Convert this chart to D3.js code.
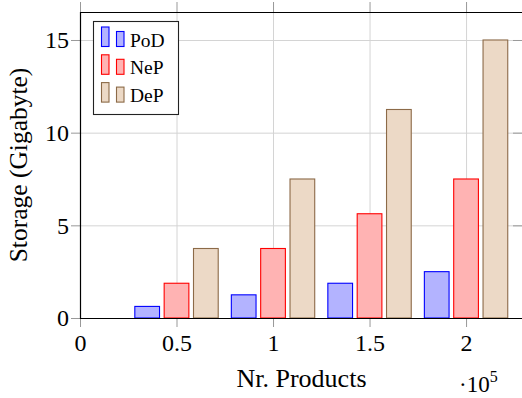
<!DOCTYPE html>
<html>
<head>
<meta charset="utf-8">
<script src="https://cdn.jsdelivr.net/npm/d3@7"></script>
<style>
  body { margin: 0; background: #fff; }
  svg { display: block; }
  text { font-family: "Liberation Serif", "DejaVu Serif", serif; fill: #000; }
</style>
</head>
<body>
<script>
// data (x in units of 10^5 products, y in gigabyte)
const products = [0.5, 1, 1.5, 2];
const pod = [0.625, 1.25, 1.875, 2.5];
const nep = [1.875, 3.75, 5.625, 7.5];
const dep = [3.75, 7.5, 11.25, 15];
const seriesNames = ["PoD", "NeP", "DeP"];
const xTicks = [0, 0.5, 1, 1.5, 2];
const xTickLabels = ["0", "0.5", "1", "1.5", "2"];
const yTicks = [0, 5, 10, 15];
const yTickLabels = ["0", "5", "10", "15"];

const width = 522, height = 398;
const plotL = 80, plotR = 523, plotT = 12, plotB = 318;

const colors = [
  { fill: "#b3b3ff", stroke: "#0000ff" },
  { fill: "#ffb3b3", stroke: "#ff0000" },
  { fill: "#ecd9c6", stroke: "#8c6a48" }
];

const svg = d3.select("body").append("svg")
  .attr("width", width)
  .attr("height", height);

const x = d3.scaleLinear().domain([0, 2.295]).range([plotL, plotR]);
const y = d3.scaleLinear().domain([0, 16.51]).range([plotB, plotT]);

// grid
svg.append("g")
  .attr("transform", "translate(0," + plotB + ")")
  .call(d3.axisBottom(x).tickValues(xTicks).tickSize(-(plotB - plotT)).tickFormat(""))
  .call(g => g.select(".domain").remove())
  .call(g => g.selectAll("line").attr("stroke", "#d4d4d4"));
svg.append("g")
  .attr("transform", "translate(" + plotL + ",0)")
  .call(d3.axisLeft(y).tickValues(yTicks).tickSize(-(plotR - plotL)).tickFormat(""))
  .call(g => g.select(".domain").remove())
  .call(g => g.selectAll("line").attr("stroke", "#d4d4d4"));

// bars
const barW = 0.128, shift = 0.152;
const series = [pod, nep, dep];
series.forEach(function(vals, i) {
  svg.append("g").selectAll("rect")
    .data(vals)
    .enter().append("rect")
      .attr("x", (d, j) => x(products[j] + (i - 1) * shift - barW / 2))
      .attr("width", x(barW) - x(0))
      .attr("y", d => y(d))
      .attr("height", d => y(0) - y(d))
      .attr("fill", colors[i].fill)
      .attr("stroke", colors[i].stroke)
      .attr("stroke-width", 1.1);
});

// ticks + labels
const bottomAxis = svg.append("g")
  .attr("transform", "translate(0," + plotB + ")")
  .call(d3.axisBottom(x).tickValues(xTicks).tickSizeInner(9).tickSizeOuter(0).tickPadding(7)
    .tickFormat((d, i) => xTickLabels[i]));
bottomAxis.selectAll("line").attr("stroke", "#999");
bottomAxis.selectAll("text").attr("font-size", 24).attr("font-family", "Liberation Serif");
bottomAxis.select(".domain").remove();

const topAxis = svg.append("g")
  .attr("transform", "translate(0," + plotT + ")")
  .call(d3.axisTop(x).tickValues(xTicks).tickSizeInner(10).tickSizeOuter(0).tickFormat(""));
topAxis.selectAll("line").attr("stroke", "#999");
topAxis.select(".domain").remove();

const leftAxis = svg.append("g")
  .attr("transform", "translate(" + plotL + ",0)")
  .call(d3.axisLeft(y).tickValues(yTicks).tickSizeInner(9).tickSizeOuter(0).tickPadding(2)
    .tickFormat((d, i) => yTickLabels[i]));
leftAxis.selectAll("line").attr("stroke", "#999");
leftAxis.selectAll("text").attr("font-size", 24).attr("font-family", "Liberation Serif");
leftAxis.select(".domain").remove();

const rightAxis = svg.append("g")
  .attr("transform", "translate(" + plotR + ",0)")
  .call(d3.axisLeft(y).tickValues(yTicks).tickSizeInner(10).tickSizeOuter(0).tickFormat(""));
rightAxis.selectAll("line").attr("stroke", "#999");
rightAxis.select(".domain").remove();

// frame
svg.append("path")
  .attr("d", "M" + plotR + "," + (plotT + 0.5) + "H" + (plotL + 0.5) + "V" + (plotB + 0.5) + "H" + plotR)
  .attr("fill", "none")
  .attr("stroke", "#000")
  .attr("stroke-width", 1.2);

// axis labels
svg.append("text")
  .attr("x", (plotL + plotR) / 2)
  .attr("y", 387)
  .attr("text-anchor", "middle")
  .attr("font-size", 26)
  .text("Nr. Products");

svg.append("text")
  .attr("transform", "translate(27," + ((plotT + plotB) / 2) + ") rotate(-90)")
  .attr("text-anchor", "middle")
  .attr("font-size", 25.5)
  .text("Storage (Gigabyte)");

const exp = svg.append("text")
  .attr("x", 459)
  .attr("y", 392)
  .attr("font-size", 23);
exp.append("tspan").text("\u00b710");
exp.append("tspan").attr("dy", -10).attr("font-size", 16).text("5");

// legend
const legend = svg.append("g");
legend.append("rect")
  .attr("x", 93.5).attr("y", 21.5)
  .attr("width", 85).attr("height", 93)
  .attr("fill", "#fff")
  .attr("stroke", "#222")
  .attr("stroke-width", 1.1);

seriesNames.forEach(function(name, i) {
  const base = 46.5 + i * 27.8;
  legend.append("rect")
    .attr("x", 101.5).attr("y", base - 19.5)
    .attr("width", 7.5).attr("height", 19.5)
    .attr("fill", colors[i].fill).attr("stroke", colors[i].stroke).attr("stroke-width", 1.1);
  legend.append("rect")
    .attr("x", 116.5).attr("y", base - 15)
    .attr("width", 7.5).attr("height", 15)
    .attr("fill", colors[i].fill).attr("stroke", colors[i].stroke).attr("stroke-width", 1.1);
  legend.append("text")
    .attr("x", 130).attr("y", base)
    .attr("font-size", 19.5)
    .text(name);
});
</script>
</body>
</html>
